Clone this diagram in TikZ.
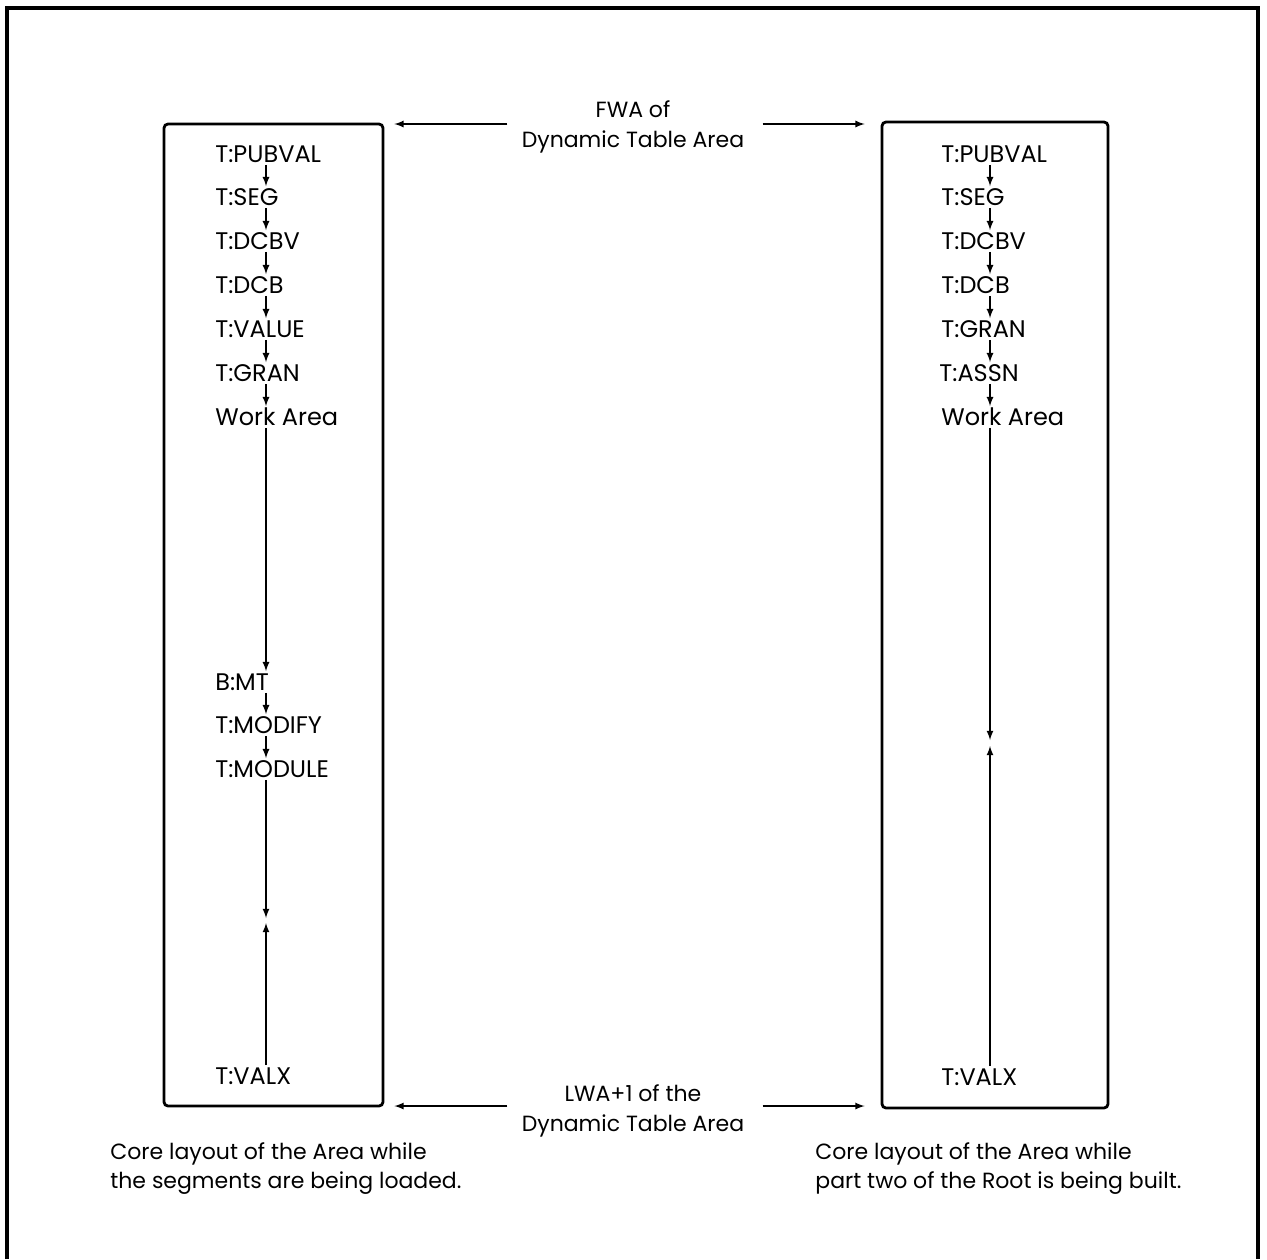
\documentclass[tikz,border=0pt]{standalone}
\usepackage{fontspec}
\setmainfont{Poppins}
\usetikzlibrary{arrows,positioning,calc}

\begin{document}
\begin{tikzpicture}[x=0.5pt,y=-0.5pt,>=latex,
  entry/.style={anchor=west,font=\fontsize{12}{14}\selectfont,inner sep=1pt,text height=8.5pt,text depth=0pt},
  label/.style={align=center,font=\fontsize{11}{15}\selectfont,inner sep=2pt},
  caption/.style={anchor=west,align=left,font=\fontsize{11}{14.5}\selectfont,inner sep=0pt},
  area/.style={draw,line width=1.4pt,rounded corners=2pt,inner sep=0pt},
  link/.style={->,line width=0.6pt}]
\useasboundingbox (0,0) rectangle (1267,1259);

% outer frame
\draw[line width=1.7pt] (7,1259) -- (7,8) -- (1258,8) -- (1258,1259);

% the two areas
\node[area,minimum width=219pt*0.5,minimum height=982pt*0.5] (lbox) at (273.5,615) {};
\node[area,minimum width=226pt*0.5,minimum height=986pt*0.5] (rbox) at (995,615) {};

\coordinate (lcol) at (266,0);
\coordinate (rcol) at (990,0);

% left area
\node[entry] (lpub) at (213,154) {T:PUBVAL};
\node[entry] (lseg) at (213,197) {T:SEG};
\node[entry] (ldcbv) at (213,241) {T:DCBV};
\node[entry] (ldcb) at (213,285) {T:DCB};
\node[entry] (lval) at (213,329) {T:VALUE};
\node[entry] (lgran) at (213,373) {T:GRAN};
\node[entry] (lwork) at (213,417) {Work Area};
\node[entry] (lmt) at (213,682) {B:MT};
\node[entry] (lmodi) at (213,725) {T:MODIFY};
\node[entry] (lmodu) at (213,769) {T:MODULE};
\node[entry] (lvalx) at (213,1076) {T:VALX};
\coordinate (lmeetA) at (266,918);
\coordinate (lmeetB) at (266,923);

% right area
\node[entry] (rpub) at (939,154) {T:PUBVAL};
\node[entry] (rseg) at (939,197) {T:SEG};
\node[entry] (rdcbv) at (939,241) {T:DCBV};
\node[entry] (rdcb) at (939,285) {T:DCB};
\node[entry] (rgran) at (939,329) {T:GRAN};
\node[entry] (rassn) at (937,373) {T:ASSN};
\node[entry] (rwork) at (939,417) {Work Area};
\node[entry] (rvalx) at (939,1077) {T:VALX};
\coordinate (rmeetA) at (990,740);
\coordinate (rmeetB) at (990,746);

\foreach \a/\b in {lpub/lseg,lseg/ldcbv,ldcbv/ldcb,ldcb/lval,lval/lgran,lgran/lwork,lwork/lmt,lmt/lmodi,lmodi/lmodu}
  \draw[link] (\a.south -| lcol) -- (\b.north -| lcol);
\foreach \a/\b in {rpub/rseg,rseg/rdcbv,rdcbv/rdcb,rdcb/rgran,rgran/rassn,rassn/rwork}
  \draw[link] (\a.south -| rcol) -- (\b.north -| rcol);

\draw[link] (lmodu.south -| lcol) -- (lmeetA);
\draw[link] (lvalx.north -| lcol) -- (lmeetB);
\draw[link] (rwork.south -| rcol) -- (rmeetA);
\draw[link] (rvalx.north -| rcol) -- (rmeetB);

% first and last word addresses
\node[label] (fwa) at (633,127) {FWA of\\Dynamic Table Area};
\node[label] (lwa) at (633,1111) {LWA+1 of the\\Dynamic Table Area};

\draw[link,shorten <=5pt,shorten >=5pt] (fwa.west |- 0,124) -- (lbox.east |- 0,124);
\draw[link,shorten <=7pt,shorten >=8pt] (fwa.east |- 0,124) -- (rbox.west |- 0,124);
\draw[link,shorten <=5pt,shorten >=5pt] (lwa.west |- 0,1106) -- (lbox.east |- 0,1106);
\draw[link,shorten <=7pt,shorten >=8pt] (lwa.east |- 0,1106) -- (rbox.west |- 0,1106);

% captions
\node[caption] (lcap) at (110,1169) {Core layout of the Area while\\the segments are being loaded.};
\node[caption] (rcap) at (815,1169) {Core layout of the Area while\\part two of the Root is being built.};
\end{tikzpicture}
\end{document}
